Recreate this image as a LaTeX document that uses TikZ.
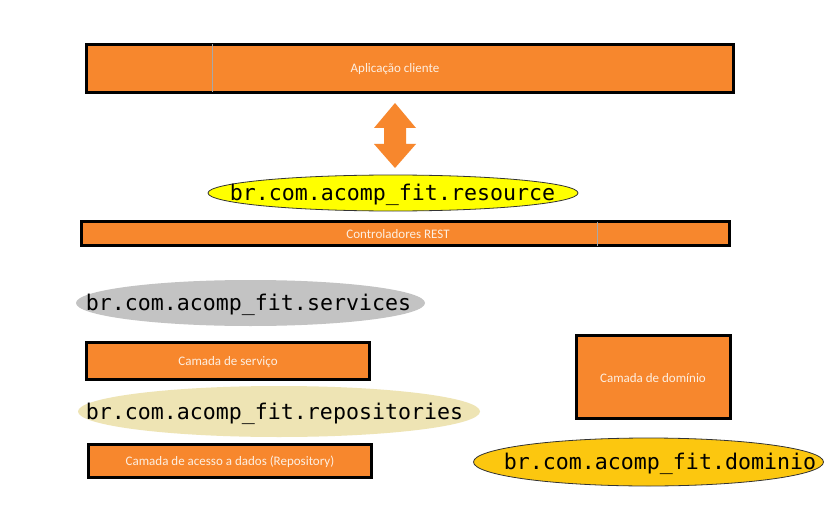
\documentclass[tikz,border=0pt]{standalone}
\usepackage{fontspec}
\setmainfont{Carlito}
\newfontfamily\codefont{DejaVu Sans Mono}
\usetikzlibrary{shapes.geometric}
\definecolor{boxorange}{HTML}{F7872D}
\definecolor{boxtext}{HTML}{FDEFE2}
\definecolor{pkgyellow}{HTML}{FFFF00}
\definecolor{pkggray}{HTML}{C3C3C3}
\definecolor{pkgbeige}{HTML}{EEE4B4}
\definecolor{pkggold}{HTML}{FCC70F}
\definecolor{sepgray}{HTML}{A8A8A8}
\tikzset{
  layerbox/.style={draw=black, line width=3pt, fill=boxorange, inner sep=0pt, outer sep=0pt, anchor=north west},
  boxlabel/.style={text=boxtext, font=\fontsize{13}{15}\selectfont, inner sep=0pt},
  pkg/.style={ellipse, inner sep=0pt, outer sep=0pt},
  pkgborder/.style={pkg, draw=black!80, line width=0.8pt},
  pkglabel/.style={font=\codefont\fontsize{21.6}{24}\selectfont, text=black, inner sep=0pt},
  bigarrow/.style={fill=boxorange, draw=none}
}
\begin{document}
\begin{tikzpicture}[x=1pt,y=-1pt]
\useasboundingbox (0,0) rectangle (835,524);
\fill[white] (0,0) rectangle (835,524);
% top box
\node[layerbox, minimum width=647pt, minimum height=48pt] (app) at (86.5,44.5) {};
\node[boxlabel] (apptxt) at (395,69) {Aplicação cliente};
\draw[sepgray, line width=0.6pt] ([xshift=125.5pt]app.north west) -- ([xshift=125.5pt]app.south west);
% double arrow
\coordinate (arr) at (395,135.5);
\path[bigarrow] (395,103) -- (416,128) -- (406,128) -- (406,144) -- (416,144) -- (395,168)
  -- (374,144) -- (384,144) -- (384,128) -- (374,128) -- cycle;
% resource ellipse
\node[pkgborder, fill=pkgyellow, minimum width=370pt, minimum height=36pt] (res) at (393,193) {};
\node[pkglabel] (restxt) at (392.5,194.5) {br.com.acomp\_fit.resource};
% controllers
\node[layerbox, minimum width=648pt, minimum height=24pt] (ctl) at (81.5,221.5) {};
\node[boxlabel] (ctltxt) at (398,234) {Controladores REST};
\draw[sepgray, line width=0.6pt] ([xshift=515.5pt]ctl.north west) -- ([xshift=515.5pt]ctl.south west);
% services
\node[pkg, fill=pkggray, minimum width=349pt, minimum height=46pt] (svc) at (250.5,303) {};
\node[pkglabel] (svctxt) at (248.5,304.5) {br.com.acomp\_fit.services};
\node[layerbox, minimum width=283pt, minimum height=37pt] (svcbox) at (86.5,342.5) {};
\node[boxlabel] (svcboxtxt) at (228,362) {Camada de serviço};
% repositories
\node[pkg, fill=pkgbeige, minimum width=402pt, minimum height=51pt] (repo) at (279,411.5) {};
\node[pkglabel] (repotxt) at (274.5,414) {br.com.acomp\_fit.repositories};
\node[layerbox, minimum width=283pt, minimum height=33pt] (repobox) at (88.5,444.5) {};
\node[boxlabel] (repoboxtxt) at (230,462) {Camada de acesso a dados (Repository)};
% domain
\node[layerbox, minimum width=154pt, minimum height=83pt] (dom) at (576.5,335.5) {};
\node[boxlabel] (domtxt) at (653,378) {Camada de domínio};
\node[pkgborder, fill=pkggold, minimum width=350pt, minimum height=48pt] (dompkg) at (648.5,462) {};
\node[pkglabel] (domtxt2) at (660,464) {br.com.acomp\_fit.dominio};
\end{tikzpicture}
\end{document}
